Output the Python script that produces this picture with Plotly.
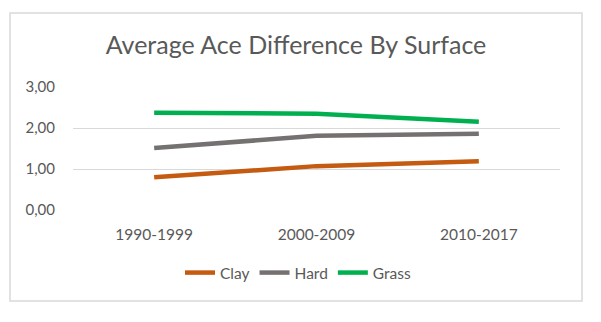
import plotly.graph_objects as go

# Decades on the category axis
periods = ["1990-1999", "2000-2009", "2010-2017"]

# Average ace difference per surface
clay = [0.80, 1.07, 1.19]
hard = [1.51, 1.81, 1.86]
grass = [2.37, 2.35, 2.15]

y_ticks = [0, 1, 2, 3]

series = [
    ("Clay", clay, "#C55A11"),
    ("Hard", hard, "#767171"),
    ("Grass", grass, "#00B050"),
]

fig = go.Figure()
for name, vals, color in series:
    fig.add_trace(go.Scatter(
        x=periods, y=vals, name=name, mode="lines",
        line=dict(color=color, width=4.5),
    ))

W, H = 601, 322
L, R, T, B = 73, 41, 87, 112

fig.update_layout(
    width=W, height=H,
    margin=dict(l=L, r=R, t=T, b=B),
    paper_bgcolor="white", plot_bgcolor="white",
    separators=",.",
    font=dict(family="Lato, 'Open Sans', sans-serif", color="#595959", size=15),
    title=dict(
        text="Average Ace Difference By Surface",
        x=(296 - L) / (W - L - R), xref="paper", xanchor="center",
        y=1 - 45 / H, yref="container", yanchor="middle",
        font=dict(size=25, color="#595959"),
    ),
    xaxis=dict(
        type="category", range=[-0.5, 2.5],
        showgrid=False, zeroline=False, showline=False,
        ticks="", tickfont=dict(size=15.5, color="#595959"),
        ticklabelstandoff=13,
    ),
    yaxis=dict(
        range=[0, 3], tickvals=y_ticks, tickformat=".2f",
        showgrid=True, gridcolor="#D9D9D9", gridwidth=1,
        zeroline=False, showline=False, ticks="",
        tickfont=dict(size=15, color="#595959"),
        ticklabelstandoff=17,
    ),
    legend=dict(
        orientation="h", x=(298 - L) / (W - L - R), xanchor="center",
        y=(210 - 273) / (H - T - B), yanchor="middle",
        font=dict(size=15.5, color="#595959"),
        itemwidth=30, tracegroupgap=0,
    ),
    showlegend=True,
    shapes=[dict(
        type="rect", xref="paper", yref="paper",
        x0=(10 - L) / (W - L - R), x1=(582 - L) / (W - L - R),
        y0=(H - B - 301) / (H - T - B), y1=(H - B - 13) / (H - T - B),
        line=dict(color="#D9D9D9", width=1.5), layer="below",
    )],
)

fig.write_html("out.html")
